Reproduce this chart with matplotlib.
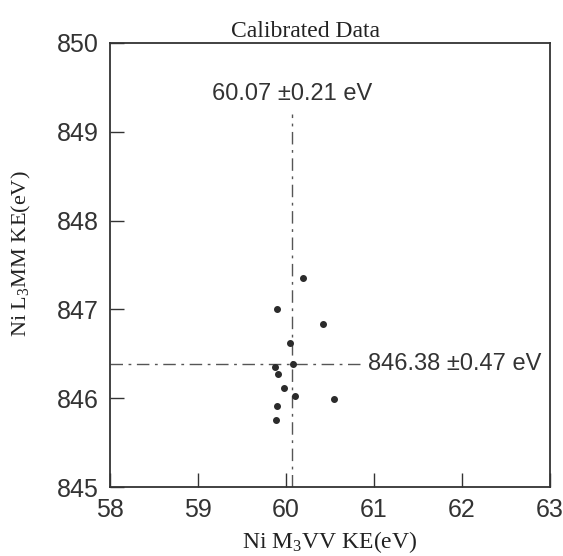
import matplotlib
matplotlib.use("Agg")
import matplotlib.pyplot as plt

# calibrated peak positions
m3vv_ke = [60.19, 59.90, 60.42, 60.05, 59.87, 60.08, 59.91, 59.98, 60.10, 60.54, 59.90, 59.89]
l3mm_ke = [847.35, 847.00, 846.84, 846.62, 846.35, 846.39, 846.27, 846.11, 846.03, 845.99, 845.91, 845.76]

mean_x, sd_x = 60.07, 0.21
mean_y, sd_y = 846.38, 0.47

x_ticks = [58, 59, 60, 61, 62, 63]
y_ticks = [845, 846, 847, 848, 849, 850]

ink = "#333333"
serif = ["Liberation Serif", "DejaVu Serif"]
sans = ["Liberation Sans", "DejaVu Sans"]

fig = plt.figure(figsize=(5.63, 5.56), dpi=100)
ax = fig.add_axes([0.1954, 0.1241, 0.7815, 0.7986])

ax.scatter(m3vv_ke, l3mm_ke, s=16, color="#2b2b2b", zorder=3)

dashdot = (0, (9, 4, 2, 4))
ax.plot([mean_x, mean_x], [845, 849.2], color="#555555", lw=1.0, linestyle=dashdot)
ax.plot([58, 60.90], [mean_y, mean_y], color="#555555", lw=1.0, linestyle=dashdot)

ax.text(mean_x, 849.3, f"{mean_x:.2f} \u00b1{sd_x:.2f} eV", ha="center", va="bottom",
        fontsize=17, family=sans, color=ink)
ax.text(60.93, mean_y, f"{mean_y:.2f} \u00b1{sd_y:.2f} eV", ha="left", va="center",
        fontsize=17, family=sans, color=ink)

ax.set_xlim(58, 63)
ax.set_ylim(845, 850)
ax.set_xticks(x_ticks)
ax.set_yticks(y_ticks)
ax.tick_params(direction="in", length=10, width=1.0, color=ink, labelsize=18,
               labelcolor=ink, pad=8)
for lab in ax.get_xticklabels() + ax.get_yticklabels():
    lab.set_family(sans)
for sp in ax.spines.values():
    sp.set_color(ink)
    sp.set_linewidth(1.3)

ax.set_title("Calibrated Data", family=serif, fontsize=17, color="#222222", pad=4, x=0.445)
ax.set_xlabel(r"Ni M$\mathregular{_3}$VV KE(eV)", family=serif, fontsize=17,
              color="#222222")
ax.xaxis.set_label_coords(0.5, -0.095)
ax.set_ylabel(r"Ni L$\mathregular{_3}$MM KE(eV)", family=serif, fontsize=16,
              color="#222222")
ax.yaxis.set_label_coords(-0.175, 0.525)

fig.savefig("out.png", dpi=100, facecolor="white")
